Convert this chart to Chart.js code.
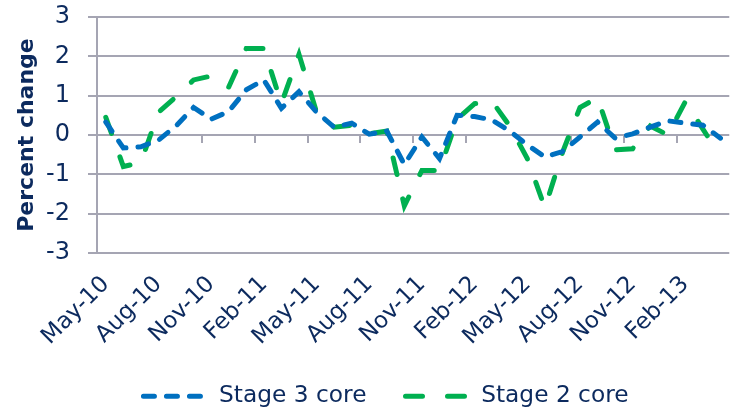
<!DOCTYPE html>
<html>
<head>
<meta charset="utf-8">
<script src="https://cdn.jsdelivr.net/npm/chart.js@4/dist/chart.umd.min.js"></script>
<style>
    html, body { margin: 0; padding: 0; background: #fff; overflow: hidden; }
    #wrap { width: 750px; height: 409px; }
</style>
</head>
<body>
<div id="wrap"><canvas id="core-chart" width="750" height="409"></canvas></div>
<script>
const months = [
    'May-10', 'Jun-10', 'Jul-10', 'Aug-10', 'Sep-10', 'Oct-10', 'Nov-10', 'Dec-10',
    'Jan-11', 'Feb-11', 'Mar-11', 'Apr-11', 'May-11', 'Jun-11', 'Jul-11', 'Aug-11',
    'Sep-11', 'Oct-11', 'Nov-11', 'Dec-11', 'Jan-12', 'Feb-12', 'Mar-12', 'Apr-12',
    'May-12', 'Jun-12', 'Jul-12', 'Aug-12', 'Sep-12', 'Oct-12', 'Nov-12', 'Dec-12',
    'Jan-13', 'Feb-13', 'Mar-13', 'Apr-13'
];

const stage3Core = [
    0.33, -0.33, -0.3, -0.13, 0.23, 0.7, 0.4, 0.6,
    1.15, 1.4, 0.68, 1.1, 0.58, 0.2, 0.3, 0.02,
    0.1, -0.75, -0.05, -0.6, 0.5, 0.47, 0.38, 0.1,
    -0.25, -0.56, -0.42, -0.05, 0.33, -0.08, 0.03, 0.2,
    0.36, 0.3, 0.25, -0.08
];

const stage2Core = [
    0.45, -0.8, -0.7, 0.58, 0.97, 1.4, 1.5, 1.22,
    2.2, 2.2, 0.8, 2.05, 0.58, 0.2, 0.25, 0.03,
    0.1, -1.8, -0.9, -0.9, 0.4, 0.8, 0.85, 0.23,
    -0.6, -1.85, -0.45, 0.7, 0.95, -0.38, -0.35, 0.23,
    0.0, 0.85, 0.15, -0.55
];

const labelEvery = 3;
const FONT = "'DejaVu Sans', Verdana, sans-serif";
const NAVY = '#0c2a5e';
const GRID = '#a5a5b3';

// Excel puts the category axis at zero: small tick marks hang below the 0 line
const zeroTicks = {
    id: 'zeroTicks',
    beforeDatasetsDraw(chart) {
        const xs = chart.scales.x;
        const ys = chart.scales.y;
        const half = (xs.getPixelForValue(1) - xs.getPixelForValue(0)) / 2;
        const y0 = ys.getPixelForValue(0);
        const ctx = chart.ctx;
        ctx.save();
        ctx.strokeStyle = GRID;
        ctx.lineWidth = 2;
        for (let i = labelEvery; i < months.length; i += labelEvery) {
            const x = Math.round(xs.getPixelForValue(i) - half);
            ctx.beginPath();
            ctx.moveTo(x, y0);
            ctx.lineTo(x, y0 + 8);
            ctx.stroke();
        }
        ctx.restore();
    }
};

// legend sits a little right of the canvas centre in the original
const legendNudge = {
    id: 'legendNudge',
    afterLayout(chart) {
        chart.legend.left += 11;
        chart.legend.right += 11;
    }
};

new Chart(document.getElementById('core-chart'), {
    type: 'line',
    data: {
        labels: months,
        datasets: [
            {
                label: 'Stage 3 core',
                data: stage3Core,
                borderColor: '#0070c0',
                backgroundColor: '#0070c0',
                borderWidth: 5,
                borderDash: [11, 12],
                borderCapStyle: 'round',
                pointRadius: 0,
                tension: 0,
                fill: false,
            },
            {
                label: 'Stage 2 core',
                data: stage2Core,
                borderColor: '#00b050',
                backgroundColor: '#00b050',
                borderWidth: 5,
                borderDash: [17, 25],
                borderCapStyle: 'round',
                pointRadius: 0,
                tension: 0,
                fill: false,
            },
        ]
    },
    options: {
        responsive: false,
        animation: false,
        layout: { padding: { top: 0, left: 0, right: 0, bottom: -9 } },
        scales: {
            x: {
                offset: true,
                grid: { display: false },
                border: { display: false },
                ticks: {
                    autoSkip: false,
                    minRotation: 45,
                    maxRotation: 45,
                    padding: 10,
                    color: NAVY,
                    font: { family: FONT, size: 23 },
                    callback: (v, i) => (i % labelEvery === 0 ? months[i] : ''),
                },
                afterFit: (s) => { s.height = 92.7; },
            },
            y: {
                min: -3,
                max: 3,
                ticks: {
                    stepSize: 1,
                    padding: 18,
                    color: NAVY,
                    font: { family: FONT, size: 24 },
                },
                grid: { color: GRID, lineWidth: 2, tickLength: 9, tickColor: GRID },
                border: { display: true, color: GRID, width: 2 },
                title: {
                    display: true,
                    text: 'Percent change',
                    color: NAVY,
                    font: { family: FONT, size: 22, weight: 'bold' },
                    padding: { top: 14, bottom: 0 },
                },
                afterFit: (s) => {
                    s.width = 97;
                    s.paddingTop = 17;
                },
            }
        },
        plugins: {
            legend: {
                display: true,
                position: 'bottom',
                labels: {
                    usePointStyle: true,
                    pointStyle: 'line',
                    pointStyleWidth: 64,
                    padding: 39,
                    color: NAVY,
                    font: { family: FONT, size: 23.3 },
                    generateLabels: (chart) => chart.data.datasets.map((ds, i) => ({
                        text: ds.label,
                        datasetIndex: i,
                        fillStyle: ds.borderColor,
                        strokeStyle: ds.borderColor,
                        fontColor: NAVY,
                        lineWidth: ds.borderWidth,
                        lineDash: ds.borderDash,
                        lineCap: 'round',
                        pointStyle: 'line',
                        hidden: false,
                    })),
                }
            },
            tooltip: { enabled: false },
        }
    },
    plugins: [zeroTicks, legendNudge]
});
</script>
</body>
</html>
